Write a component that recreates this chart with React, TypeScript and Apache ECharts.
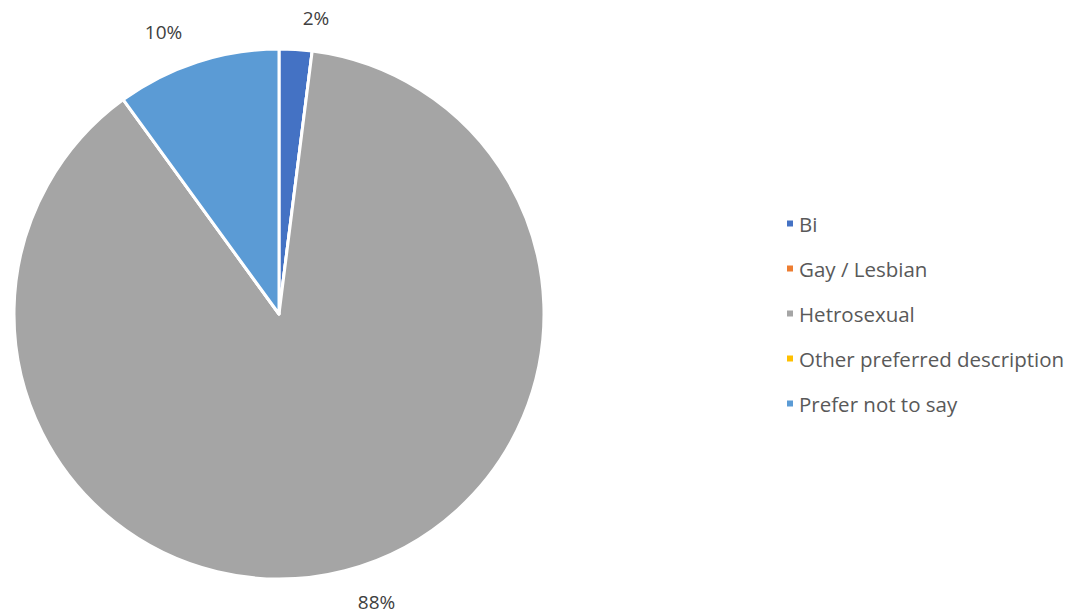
import React, { useEffect, useRef } from "react";
import * as echarts from "echarts";

const categories = ["Bi", "Gay / Lesbian", "Hetrosexual", "Other preferred description", "Prefer not to say"];
const values = [2, 0, 88, 0, 10];
const colors = ["#4472C4", "#ED7D31", "#A5A5A5", "#FFC000", "#5B9BD5"];

export default function App() {
  const ref = useRef<HTMLDivElement>(null);
  useEffect(() => {
    if (!ref.current) return;
    const chart = echarts.init(ref.current, null, { renderer: "svg" });
    chart.setOption({
      animation: false,
      backgroundColor: "#ffffff",
      color: colors,
      legend: {
        orient: "vertical",
        left: 780,
        top: 208,
        itemWidth: 8,
        itemHeight: 8,
        itemGap: 24,
        icon: "rect",
        textStyle: { fontFamily: "Open Sans", fontSize: 20.5, color: "#595959", lineHeight: 20 },
        data: categories,
      },
      series: [
        {
          type: "pie",
          center: [279, 314],
          radius: [0, 265],
          startAngle: 90,
          clockwise: true,
          minShowLabelAngle: 0.5,
          itemStyle: { borderColor: "#ffffff", borderWidth: 3 },
          label: {
            show: true,
            position: "outside",
            formatter: "{d}%",
            fontFamily: "Open Sans",
            fontSize: 19,
            color: "#404040",
          },
          labelLine: { show: false, length: 32, length2: 0 },
          data: categories.map((c, i) => ({ name: c, value: values[i] })),
        },
      ],
    });
    return () => chart.dispose();
  }, []);
  return <div ref={ref} style={{ position: "fixed", left: 0, top: 0, width: 1081, height: 616 }} />;
}
